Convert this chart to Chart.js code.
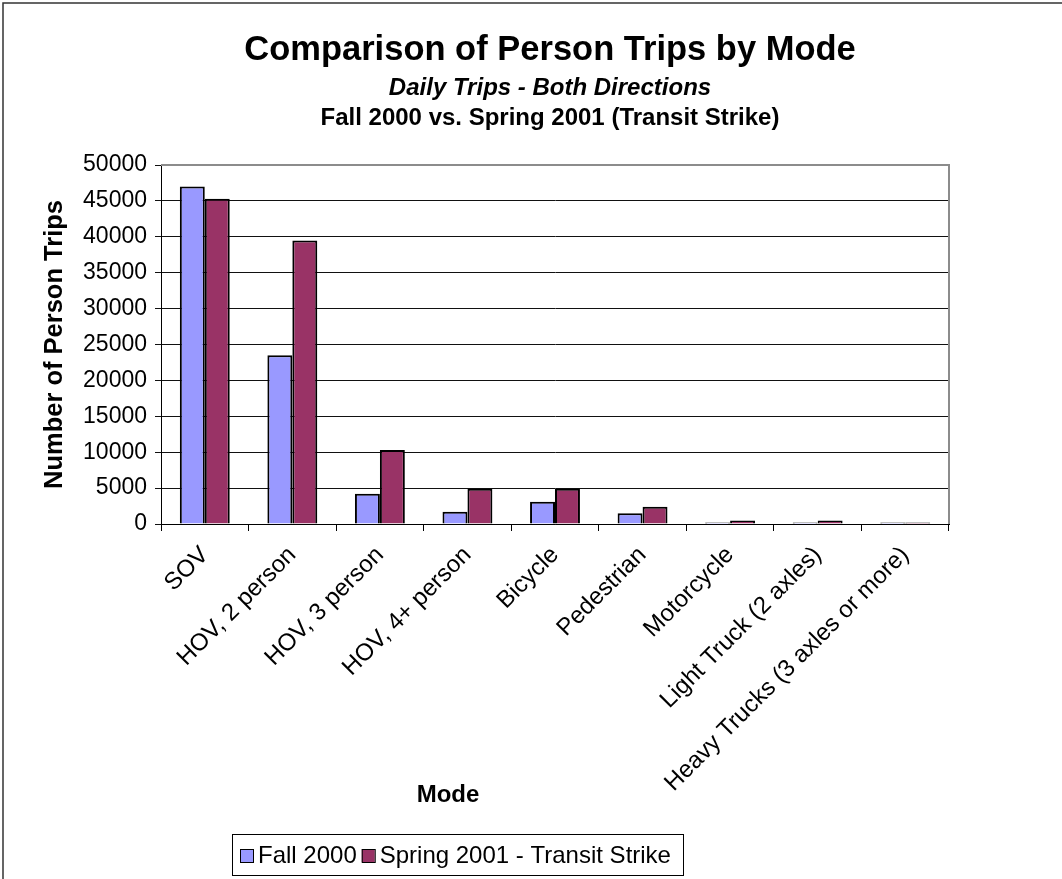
<!DOCTYPE html>
<html>
<head>
<meta charset="utf-8">
<script src="https://cdn.jsdelivr.net/npm/chart.js@4.4.1/dist/chart.umd.min.js"></script>
<style>
  html, body { margin: 0; padding: 0; background: #fff; }
  #wrap { width: 1062px; height: 879px; position: relative; }
</style>
</head>
<body>
<div id="wrap"><canvas id="tripChart" width="1062" height="879"></canvas></div>
<script>
// data
const modes = [
    'SOV',
    'HOV, 2 person',
    'HOV, 3 person',
    'HOV, 4+ person',
    'Bicycle',
    'Pedestrian',
    'Motorcycle',
    'Light Truck (2 axles)',
    'Heavy Trucks (3 axles or more)',
];
const fall2000 = [47000, 23500, 4200, 1700, 3100, 1500, 200, 200, 200];
const spring2001 = [45300, 39500, 10300, 4900, 4900, 2400, 500, 500, 200];
const seriesNames = ['Fall 2000', 'Spring 2001 - Transit Strike'];
const yMax = 50000;
const yStep = 5000;

const titleLines = [
    { text: 'Comparison of Person Trips by Mode', font: 'bold 34.5px "Liberation Sans", Arial', y: 50 },
    { text: 'Daily Trips - Both Directions', font: 'italic bold 24px "Liberation Sans", Arial', y: 88 },
    { text: 'Fall 2000 vs. Spring 2001 (Transit Strike)', font: 'bold 24px "Liberation Sans", Arial', y: 118 },
];

const extrasPlugin = {
    id: 'extras',
    afterDatasetsDraw(chart) {
        const { ctx, chartArea } = chart;
        // gray plot-area frame, top and right
        ctx.save();
        ctx.strokeStyle = '#8c8c8c';
        ctx.lineWidth = 2;
        ctx.beginPath();
        ctx.moveTo(chartArea.left, chartArea.top);
        ctx.lineTo(chartArea.right, chartArea.top);
        ctx.lineTo(chartArea.right, chartArea.bottom);
        ctx.stroke();
        ctx.restore();
    },
    afterDraw(chart) {
        const { ctx } = chart;
        ctx.save();

        // outer border (top + left)
        ctx.strokeStyle = '#333';
        ctx.lineWidth = 1.5;
        ctx.beginPath();
        ctx.moveTo(3, 879);
        ctx.lineTo(3, 3);
        ctx.lineTo(1062, 3);
        ctx.stroke();

        // titles
        ctx.fillStyle = '#000';
        ctx.textAlign = 'center';
        ctx.textBaseline = 'middle';
        titleLines.forEach((t) => {
            ctx.font = t.font;
            ctx.fillText(t.text, 550, t.y);
        });

        // x axis title
        ctx.font = 'bold 24px "Liberation Sans", Arial';
        ctx.fillText('Mode', 448, 795);

        // legend
        const lx = 232, ly = 834, lw = 451, lh = 41;
        ctx.strokeStyle = '#000';
        ctx.lineWidth = 1;
        ctx.strokeRect(lx + 0.5, ly + 0.5, lw, lh);
        ctx.font = '24px "Liberation Sans", Arial';
        ctx.textAlign = 'left';
        let x = lx + 8;
        chart.data.datasets.forEach((ds) => {
            ctx.fillStyle = ds.backgroundColor;
            ctx.fillRect(x, ly + 15, 13, 13);
            ctx.strokeStyle = '#000';
            ctx.strokeRect(x + 0.5, ly + 15.5, 13, 13);
            ctx.fillStyle = '#000';
            ctx.fillText(ds.label, x + 18, ly + 22);
            x += 18 + ctx.measureText(ds.label).width + 5;
        });
        ctx.restore();
    },
};

new Chart(document.getElementById('tripChart'), {
    type: 'bar',
    data: {
        labels: modes,
        datasets: [
            {
                label: seriesNames[0],
                data: fall2000,
                backgroundColor: '#9999FF',
                borderColor: '#000',
                borderWidth: 2,
            },
            {
                label: seriesNames[1],
                data: spring2001,
                backgroundColor: '#993366',
                borderColor: '#000',
                borderWidth: 2,
            },
        ],
    },
    options: {
        responsive: false,
        animation: false,
        devicePixelRatio: 1,
        layout: { padding: { left: 40, right: 113, top: 165, bottom: 0 } },
        datasets: { bar: { categoryPercentage: 0.57, barPercentage: 1 } },
        plugins: {
            legend: { display: false },
            title: { display: false },
            tooltip: { enabled: false },
        },
        scales: {
            x: {
                afterFit: (scale) => { scale.height = 355; },
                grid: { drawOnChartArea: false, drawTicks: true, tickLength: 7, color: '#000' },
                border: { display: true, color: '#000', width: 1 },
                ticks: {
                    color: '#000',
                    font: { family: '"Liberation Sans", Arial', size: 24 },
                    minRotation: 45,
                    maxRotation: 45,
                    autoSkip: false,
                    padding: 10,
                },
            },
            y: {
                min: 0,
                max: yMax,
                afterFit: (scale) => { scale.width = 121; },
                title: {
                    display: true,
                    text: 'Number of Person Trips',
                    color: '#000',
                    font: { family: '"Liberation Sans", Arial', size: 25.5, weight: 'bold' },
                    padding: 0,
                },
                grid: { color: '#111', lineWidth: 1, tickLength: 6 },
                border: { display: true, color: '#000', width: 1 },
                ticks: {
                    stepSize: yStep,
                    color: '#000',
                    font: { family: '"Liberation Sans", Arial', size: 23 },
                    padding: 8,
                    callback: (v) => String(v),
                },
            },
        },
    },
    plugins: [extrasPlugin],
});
</script>
</body>
</html>
